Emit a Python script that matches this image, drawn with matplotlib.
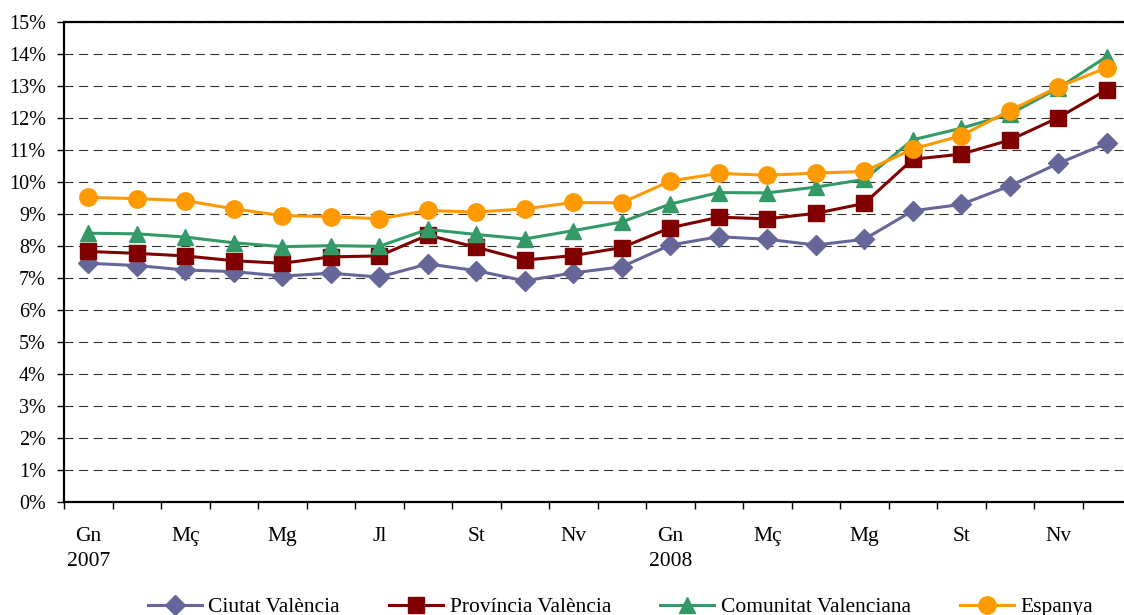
import numpy as np
import matplotlib
matplotlib.use("Agg")
import matplotlib.pyplot as plt

plt.rcParams['font.family'] = ['Liberation Serif', 'DejaVu Serif']
plt.rcParams['lines.scale_dashes'] = False

months = ["Gn\n2007", "", "Mç", "", "Mg", "", "Jl", "", "St", "", "Nv", "",
          "Gn\n2008", "", "Mç", "", "Mg", "", "St", "", "Nv", ""]

ciutat = [7.46, 7.39, 7.25, 7.20, 7.06, 7.15, 7.03, 7.44, 7.23, 6.91, 7.16, 7.35,
          8.03, 8.29, 8.21, 8.03, 8.21, 9.10, 9.30, 9.88, 10.58, 11.21]
provincia = [7.83, 7.77, 7.69, 7.54, 7.46, 7.66, 7.69, 8.34, 7.96, 7.56, 7.70, 7.95,
             8.57, 8.90, 8.85, 9.02, 9.33, 10.71, 10.87, 11.31, 12.01, 12.88]
comunitat = [8.40, 8.38, 8.28, 8.10, 7.98, 8.01, 7.99, 8.52, 8.36, 8.22, 8.48, 8.75,
             9.31, 9.67, 9.66, 9.84, 10.08, 11.32, 11.68, 12.12, 12.93, 13.92]
espanya = [9.52, 9.48, 9.42, 9.16, 8.95, 8.92, 8.85, 9.11, 9.06, 9.16, 9.36, 9.35,
           10.03, 10.27, 10.21, 10.28, 10.33, 11.03, 11.45, 12.23, 12.97, 13.57]

x = np.arange(len(months))

fig = plt.figure(figsize=(11.24, 6.15), dpi=100)
ax = fig.add_axes([64 / 1124, 1 - 502 / 615, 1067 / 1124, 480 / 615])

ax.plot(x, ciutat, label="Ciutat València", color='#666699', marker='D',
        markersize=10, linewidth=2.2)
ax.plot(x, provincia, label="Província València", color='#800000', marker='s',
        markersize=11, linewidth=2.2)
ax.plot(x, comunitat, label="Comunitat Valenciana", color='#339966', marker='^',
        markersize=12, linewidth=2.2)
ax.plot(x, espanya, label="Espanya", color='#FF9900', marker='o',
        markersize=12.5, linewidth=2.2)

ax.set_xlim(-0.5, len(months) - 0.5)
ax.set_ylim(0, 15)
ax.set_yticks(range(0, 16))
ax.set_yticklabels([f"{v}%" for v in range(0, 16)], fontsize=14.5)
ax.yaxis.grid(True, color='#333333', linestyle=(0, (6.5, 4.0)), linewidth=0.8)
ax.set_axisbelow(True)

ax.set_xticks(x)
ax.set_xticklabels(months, fontsize=15.5, linespacing=1.45)
ax.set_xticks(np.arange(-0.5, len(months), 1), minor=True)
ax.tick_params(axis='x', which='major', length=0, pad=18)
ax.tick_params(axis='x', which='minor', length=5, width=1)
ax.tick_params(axis='y', length=5, width=1, pad=8)

for s in ax.spines.values():
    s.set_linewidth(1.6)

fig.legend(loc='center', bbox_to_anchor=(0.552, 1 - 607 / 615), ncol=4,
           frameon=False, fontsize=15.5, handlelength=2.5, columnspacing=2.3,
           handletextpad=0.3)

fig.savefig("out.png", dpi=100)
